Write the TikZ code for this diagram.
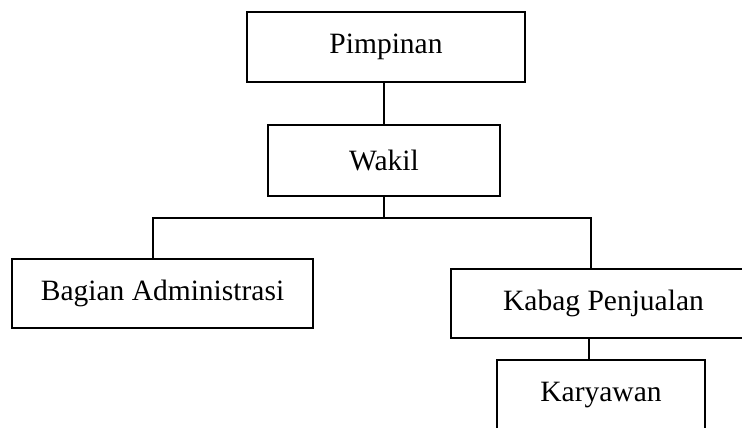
\documentclass[tikz,border=0pt]{standalone}
\usepackage{fontspec}
\setmainfont{Liberation Serif}
\begin{document}
\begin{tikzpicture}[x=1pt,y=-1pt,
  box/.style={draw=black,line width=2pt,fill=white,inner sep=0pt,
    font=\fontsize{29.5}{32}\selectfont,align=center},
  link/.style={draw=black,line width=2pt}]
\clip (0,0) rectangle (742,428);
\fill[white] (0,0) rectangle (742,428);
\node[box,minimum width=278pt,minimum height=70pt] (pim) at (386,47) {Pimpinan};
\node[box,minimum width=232pt,minimum height=71pt] (wak) at (384,160.5) {Wakil};
\node[box,minimum width=301pt,minimum height=69pt] (bag) at (162.5,293.5) {Bagian Administrasi};
\node[box,minimum width=305pt,minimum height=69pt] (kab) at (603.5,303.5) {Kabag Penjualan};
\node[box,minimum width=208pt,minimum height=70pt] (kar) at (601,395) {Karyawan};
\coordinate (bus) at (384,218);
\coordinate (bl) at (153,218);
\coordinate (br) at (591,218);
\coordinate (kk) at (589,0);
\draw[link] (wak.north) -- (wak.north |- pim.south);
\draw[link] (wak.south) -- (bus);
\draw[link] (bag.north -| bl) -- (bl) -- (br) -- (kab.north -| br);
\draw[link] (kab.south -| kk) -- (kar.north -| kk);
\end{tikzpicture}
\end{document}
